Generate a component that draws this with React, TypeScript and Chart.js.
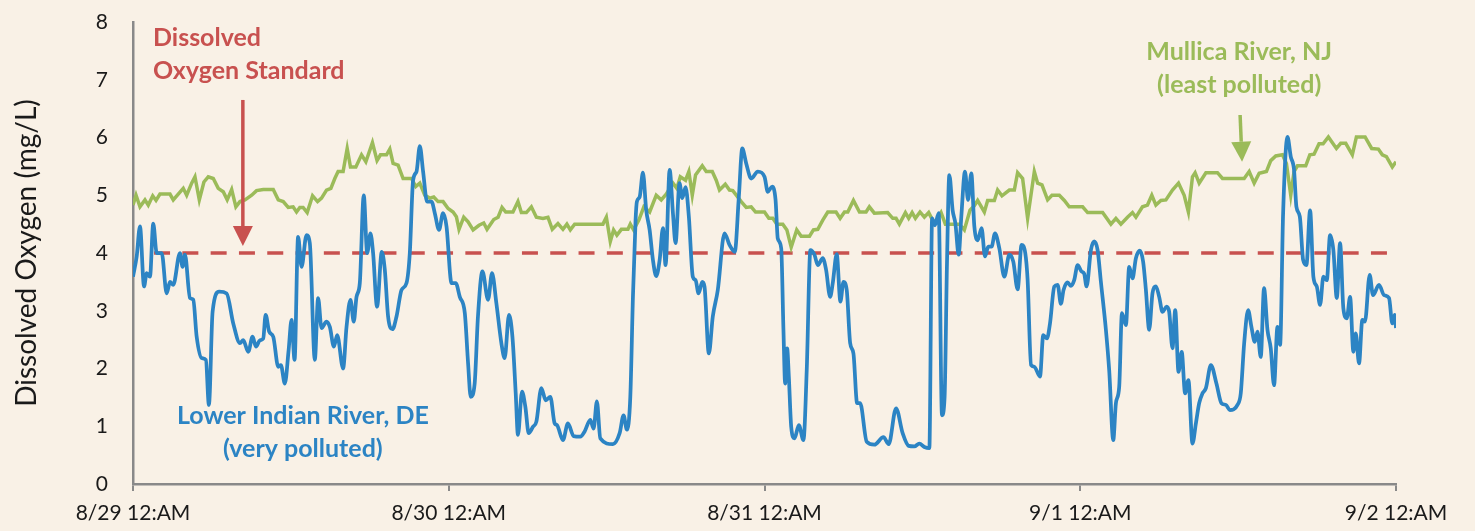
import { useEffect, useRef } from 'react';
import { Chart, registerables } from 'chart.js';

Chart.register(...registerables);

// ---------- data ----------
const xTickLabels = ['8/29 12:AM', '8/30 12:AM', '8/31 12:AM', '9/1 12:AM', '9/2 12:AM'];
const yTickValues = [0, 1, 2, 3, 4, 5, 6, 7, 8];
const doStandard = 4;
const standardStartHour = 1.6;

// Lower Indian River, DE — hours since 8/29 12:AM
const blueHours = [
  0, 0.28, 0.53, 0.84, 1.04, 1.29, 1.54, 1.8, 2.18, 2.56,
  2.81, 3.06, 3.57, 3.77, 3.95, 4.33, 4.58, 4.84, 5.22, 5.54,
  5.77, 6.05, 6.55, 7.12, 7.62, 8.13, 8.38, 8.76, 9.09, 9.34,
  9.65, 9.9, 10.08, 10.35, 10.66, 11.04, 11.24, 11.54, 11.83, 12.05,
  12.28, 12.55, 12.81, 13.19, 13.44, 13.82, 14.07, 14.33, 14.71, 14.96,
  15.27, 15.52, 15.97, 16.23, 16.53, 16.78, 16.99, 17.24, 17.54, 17.8,
  18.05, 18.25, 18.55, 18.91, 19.14, 19.39, 19.72, 20.03, 20.41, 20.79,
  21.04, 21.29, 21.55, 21.8, 22.05, 22.35, 22.69, 22.94, 23.26, 23.57,
  23.83, 24.21, 24.53, 24.84, 25.22, 25.47, 25.67, 25.97, 26.22, 26.56,
  26.99, 27.29, 27.62, 28, 28.25, 28.58, 28.84, 29.09, 29.26, 29.57,
  29.82, 30.08, 30.4, 30.66, 31.04, 31.37, 31.72, 32.05, 32.23, 32.68,
  33.06, 33.49, 34, 34.33, 34.76, 35.01, 35.26, 35.52, 36.48, 36.99,
  37.29, 37.54, 37.8, 38, 38.2, 38.3, 38.51, 38.76, 39.01, 39.27,
  39.52, 39.77, 40.03, 40.28, 40.48, 40.79, 41.04, 41.24, 41.54, 41.75,
  42, 42.25, 42.55, 42.76, 42.99, 43.27, 43.44, 43.77, 44.07, 44.45,
  44.96, 45.34, 45.74, 46.05, 46.31, 46.61, 46.99, 47.49, 48, 48.25,
  48.58, 48.84, 49.01, 49.27, 49.44, 49.57, 49.72, 49.85, 50.03, 50.28,
  50.61, 50.96, 51.21, 51.49, 51.8, 52.05, 52.43, 52.68, 52.99, 53.19,
  53.49, 53.77, 54, 54.25, 54.51, 54.76, 55.04, 55.27, 55.77, 56.35,
  57.04, 57.44, 58, 58.5, 58.96, 59.39, 59.77, 60.15, 60.53, 60.74,
  60.96, 61.24, 61.49, 61.69, 61.87, 62.05, 62.3, 62.51, 62.76, 62.96,
  63.24, 63.47, 63.72, 63.95, 64.2, 64.5, 64.76, 65.01, 65.26, 65.52,
  65.85, 66.23, 66.61, 66.91, 67.24, 67.54, 67.82, 68, 68.26, 68.51,
  68.94, 69.19, 69.47, 69.7, 70.03, 70.28, 70.53, 70.73, 71.04, 71.29,
  71.54, 71.8, 72.1, 72.3, 72.48, 72.81, 73.06, 73.32, 73.57, 73.95,
  74.2, 74.51, 74.71, 74.96, 75.17, 75.47, 75.72, 75.97, 76.23, 76.53,
  76.78, 76.99, 77.24, 77.49, 77.75, 78, 78.25, 78.56, 78.76, 79.01,
  79.22, 79.47, 79.71, 79.97, 80.22, 80.53, 80.79, 81.04, 81.29, 81.55,
  81.93, 82.35, 82.73, 83.07, 83.37, 83.95, 84.2, 84.46, 84.76, 85.01,
  85.27, 85.47, 85.72, 85.97, 86.23, 86.48, 86.73, 86.99, 87.19, 87.42,
  87.75, 88, 88.25, 88.43, 88.69, 88.94, 89.19, 89.47, 89.72, 89.98,
  90.23, 90.48, 90.74, 90.99, 91.24, 91.5, 91.75, 92, 92.26, 92.51,
  92.76, 92.94, 93.19, 93.44, 93.64, 94, 94.25, 94.71, 95.09, 95.47,
  95.72, 95.9, 96,
];
const blueDO = [
  3.59, 3.94, 4.46, 3.42, 3.65, 3.59, 4.51, 4.0, 4.0, 3.3,
  3.5, 3.45, 4.0, 3.76, 3.97, 3.22, 3.19, 2.55, 2.18, 2.15,
  1.37, 2.98, 3.33, 3.3, 2.78, 2.44, 2.49, 2.29, 2.55, 2.38,
  2.49, 2.52, 2.93, 2.64, 2.55, 2.03, 2.06, 1.74, 2.32, 2.84,
  2.15, 4.28, 3.76, 4.31, 4.17, 2.15, 3.22, 2.7, 2.81, 2.72,
  2.38, 2.58, 2.0, 2.72, 3.19, 2.81, 3.24, 3.48, 5.0, 4.0,
  4.34, 4.0, 3.07, 4.02, 3.71, 2.9, 2.68, 2.9, 3.36, 3.48,
  4.0, 5.26, 5.41, 5.85, 5.41, 4.89, 4.89, 4.69, 4.4, 4.69,
  4.46, 3.48, 3.48, 3.24, 2.96, 2.09, 1.51, 1.74, 2.9, 3.68,
  3.19, 3.65, 3.13, 2.44, 2.18, 2.93, 2.55, 1.57, 0.85, 1.6,
  1.34, 0.88, 0.99, 1.08, 1.66, 1.45, 1.51, 1.05, 1.02, 0.76,
  1.05, 0.83, 0.82, 0.91, 1.11, 0.96, 1.43, 0.79, 0.69, 0.88,
  1.19, 0.94, 1.51, 3.24, 4.57, 4.89, 4.97, 5.39, 4.74, 4.4,
  3.88, 3.6, 3.88, 4.43, 3.79, 5.44, 4.69, 4.17, 5.21, 4.95,
  5.14, 4.63, 3.59, 3.53, 3.3, 3.5, 3.42, 2.26, 2.9, 3.36,
  4.34, 4.14, 4.02, 4.97, 5.81, 5.55, 5.29, 5.41, 5.32, 5.06,
  5.15, 4.92, 4.25, 4.08, 2.67, 1.74, 2.35, 1.86, 0.99, 0.79,
  1.02, 0.76, 1.97, 4.05, 3.97, 3.79, 3.91, 3.71, 3.24, 3.48,
  3.98, 3.16, 3.5, 3.36, 2.44, 2.26, 1.4, 1.4, 0.73, 0.68,
  0.81, 0.69, 1.31, 0.88, 0.66, 0.65, 0.7, 0.64, 0.62, 4.6,
  4.48, 4.69, 1.19, 1.51, 3.82, 5.35, 4.74, 4.51, 3.97, 4.63,
  5.41, 4.92, 5.38, 4.46, 4.22, 4.43, 3.94, 4.11, 4.11, 4.34,
  4.08, 3.59, 3.97, 3.85, 3.37, 4.14, 4.0, 3.53, 2.06, 2.03,
  1.86, 2.58, 2.52, 2.78, 3.42, 3.45, 3.12, 3.36, 3.49, 3.43,
  3.53, 3.79, 3.68, 3.64, 3.42, 4.05, 4.2, 4.05, 3.5, 2.67,
  1.97, 0.76, 1.4, 1.68, 2.96, 2.75, 3.76, 3.56, 3.91, 4.04,
  3.85, 3.36, 2.67, 3.3, 3.42, 3.24, 2.98, 3.07, 2.98, 2.35,
  3.01, 1.94, 2.29, 1.57, 1.8, 0.7, 1.05, 1.4, 1.57, 1.66,
  2.06, 1.74, 1.4, 1.37, 1.28, 1.37, 1.57, 2.44, 3.01, 2.72,
  2.46, 2.64, 2.2, 3.39, 2.67, 2.35, 1.71, 2.72, 2.41, 4.69,
  6.01, 5.67, 5.44, 4.8, 4.63, 3.88, 3.79, 4.74, 3.59, 3.42,
  3.1, 3.59, 3.53, 4.31, 4.05, 3.22, 4.17, 3.04, 2.87, 3.24,
  2.29, 2.61, 2.09, 2.84, 2.81, 3.62, 3.27, 3.45, 3.27, 3.22,
  2.78, 2.93, 2.7,
];

// Mullica River, NJ — hours since 8/29 12:AM
const greenHours = [
  0, 0.23, 0.53, 0.91, 1.16, 1.5, 1.75, 2.05, 2.81, 3.06,
  3.44, 3.82, 4.08, 4.46, 4.71, 5.04, 5.39, 5.72, 6.1, 6.48,
  6.86, 7.16, 7.5, 7.82, 8.13, 8.51, 9.02, 9.39, 9.9, 10.66,
  11.04, 11.42, 11.8, 12.17, 12.43, 12.68, 12.93, 13.24, 13.65, 14.03,
  14.33, 14.71, 15.04, 15.34, 15.59, 15.97, 16.28, 16.53, 16.94, 17.37,
  17.7, 18.2, 18.55, 18.81, 19.27, 19.52, 19.77, 20.15, 20.53, 21.17,
  21.49, 21.8, 22.18, 22.56, 22.86, 23.19, 23.57, 23.95, 24.33, 24.58,
  24.78, 25.14, 25.47, 25.85, 26.3, 26.66, 26.91, 27.42, 27.75, 28.05,
  28.33, 28.88, 29.26, 29.52, 29.9, 30.28, 30.66, 31.16, 31.54, 31.87,
  32.3, 32.68, 32.98, 33.24, 33.57, 35.72, 35.98, 36.28, 36.53, 36.78,
  37.12, 37.62, 37.8, 38.05, 38.45, 38.83, 39.27, 39.77, 40.15, 40.53,
  41.04, 41.34, 41.6, 42, 42.25, 42.51, 42.76, 43.27, 43.57, 44.03,
  44.33, 44.58, 45.02, 45.34, 45.59, 45.9, 46.23, 46.61, 46.99, 47.32,
  48, 48.33, 48.63, 48.94, 49.39, 49.7, 50.03, 50.45, 50.79, 51.42,
  51.72, 52.05, 52.43, 52.81, 53.44, 53.75, 54.08, 54.33, 54.76, 55.22,
  55.72, 55.97, 56.35, 57.36, 57.75, 58, 58.25, 58.71, 58.96, 59.22,
  59.47, 59.82, 60.15, 60.48, 60.91, 61.42, 61.75, 62.81, 63.19, 63.62,
  63.95, 64.2, 64.71, 64.96, 65.47, 65.72, 66.05, 66.61, 66.99, 67.24,
  67.62, 68, 68.51, 68.76, 69.09, 69.52, 69.85, 70.41, 70.79, 71.16,
  72.18, 72.56, 73.7, 74.33, 74.71, 75.09, 75.59, 75.97, 76.23, 76.73,
  77.11, 77.44, 77.75, 78.13, 78.51, 79.01, 79.47, 79.9, 80.22, 80.53,
  80.73, 81.04, 81.55, 82.43, 82.81, 84.46, 84.84, 85.22, 85.6, 86.15,
  86.48, 86.86, 87.37, 87.67, 88, 88.25, 88.51, 89.14, 89.45, 89.77,
  90.15, 90.46, 90.86, 91.47, 91.8, 92.18, 92.68, 92.99, 93.65, 94.15,
  94.66, 94.96, 95.27, 95.72, 96,
];
const greenDO = [
  4.83, 5.0, 4.8, 4.92, 4.83, 4.99, 4.91, 5.02, 5.02, 4.92,
  5.02, 5.12, 5.0, 5.21, 5.32, 4.92, 5.23, 5.32, 5.29, 5.12,
  5.06, 4.92, 5.1, 4.8, 4.89, 4.92, 5.0, 5.08, 5.1, 5.1,
  4.92, 4.89, 4.79, 4.8, 4.71, 4.79, 4.79, 4.7, 4.99, 4.89,
  4.95, 5.09, 5.12, 5.29, 5.41, 5.41, 5.81, 5.49, 5.49, 5.7,
  5.58, 5.91, 5.6, 5.7, 5.7, 5.8, 5.55, 5.52, 5.29, 5.29,
  5.15, 5.21, 5.0, 4.95, 4.97, 4.89, 4.89, 4.77, 4.71, 4.63,
  4.41, 4.62, 4.54, 4.4, 4.48, 4.52, 4.41, 4.58, 4.62, 4.79,
  4.71, 4.71, 4.89, 4.7, 4.7, 4.8, 4.62, 4.6, 4.62, 4.41,
  4.51, 4.41, 4.5, 4.4, 4.5, 4.5, 4.62, 4.2, 4.4, 4.31,
  4.41, 4.41, 4.5, 4.4, 4.57, 4.8, 4.71, 5.0, 4.92, 5.02,
  5.21, 5.12, 5.32, 5.26, 5.41, 5.0, 5.35, 5.51, 5.41, 5.41,
  5.26, 5.09, 5.19, 5.09, 5.08, 4.99, 4.89, 4.79, 4.8, 4.71,
  4.71, 4.6, 4.6, 4.5, 4.5, 4.4, 4.1, 4.4, 4.29, 4.29,
  4.4, 4.41, 4.57, 4.71, 4.71, 4.6, 4.71, 4.71, 4.91, 4.71,
  4.71, 4.8, 4.69, 4.7, 4.6, 4.6, 4.5, 4.7, 4.6, 4.7,
  4.6, 4.71, 4.62, 4.7, 4.51, 4.7, 4.5, 4.5, 4.4, 4.74,
  4.82, 4.91, 4.71, 4.91, 4.91, 5.09, 4.99, 5.09, 5.09, 5.39,
  5.29, 4.6, 5.41, 5.21, 5.18, 4.92, 5.0, 5.0, 4.91, 4.8,
  4.8, 4.7, 4.7, 4.5, 4.6, 4.5, 4.62, 4.7, 4.62, 4.8,
  4.83, 5.0, 4.83, 4.91, 4.92, 5.09, 5.21, 5.0, 4.71, 5.32,
  5.39, 5.21, 5.39, 5.39, 5.29, 5.29, 5.41, 5.21, 5.38, 5.41,
  5.6, 5.68, 5.7, 5.55, 5.0, 5.41, 5.51, 5.51, 5.7, 5.71,
  5.89, 5.89, 6.01, 5.81, 5.9, 5.9, 5.7, 6.01, 6.01, 5.81,
  5.8, 5.7, 5.67, 5.49, 5.58,
];

// ---------- styles / annotations ----------
const BG = '#F9F1E6';
const BLUE = '#2C84C4';
const GREEN = '#9BBB59';
const RED = '#C8514F';
const AXIS = '#898989';
const TEXT = '#1a1a1a';

const annotationTexts = [
  { lines: ['Dissolved', 'Oxygen Standard'], color: RED, x: 1.52, ys: [7.72, 7.15], align: 'left' as CanvasTextAlign },
  { lines: ['Mullica River, NJ', '(least polluted)'], color: GREEN, x: 84.08, ys: [7.48, 6.91], align: 'center' as CanvasTextAlign },
  { lines: ['Lower Indian River, DE', '(very polluted)'], color: BLUE, x: 12.91, ys: [1.18, 0.61], align: 'center' as CanvasTextAlign },
];
const arrows = [
  { color: RED, from: [8.35, 6.65], to: [8.35, 4.12] },
  { color: GREEN, from: [84.15, 6.39], to: [84.3, 5.58] },
];

const toPoints = (xs: number[], ys: number[]) => xs.map((x, i) => ({ x, y: ys[i] }));

const annotationPlugin = {
  id: 'annotations',
  beforeDraw(chart: any) {
    const { ctx, width, height } = chart;
    ctx.save();
    ctx.fillStyle = BG;
    ctx.fillRect(0, 0, width, height);
    ctx.restore();
  },
  afterDatasetsDraw(chart: any) {
    const { ctx, scales } = chart;
    const xs = scales.x;
    const ys = scales.y;
    ctx.save();
    arrows.forEach((a) => {
      const x1 = xs.getPixelForValue(a.from[0]);
      const y1 = ys.getPixelForValue(a.from[1]);
      const x2 = xs.getPixelForValue(a.to[0]);
      const y2 = ys.getPixelForValue(a.to[1]);
      const ang = Math.atan2(y2 - y1, x2 - x1);
      const headLen = 20;
      const headHalf = 10;
      const bx = x2 - headLen * Math.cos(ang);
      const by = y2 - headLen * Math.sin(ang);
      ctx.strokeStyle = a.color;
      ctx.fillStyle = a.color;
      ctx.lineWidth = 3.5;
      ctx.beginPath();
      ctx.moveTo(x1, y1);
      ctx.lineTo(bx, by);
      ctx.stroke();
      ctx.beginPath();
      ctx.moveTo(x2, y2);
      ctx.lineTo(bx + headHalf * Math.sin(ang), by - headHalf * Math.cos(ang));
      ctx.lineTo(bx - headHalf * Math.sin(ang), by + headHalf * Math.cos(ang));
      ctx.closePath();
      ctx.fill();
    });
    ctx.font = 'bold 25px Lato';
    ctx.textBaseline = 'middle';
    annotationTexts.forEach((t) => {
      ctx.fillStyle = t.color;
      ctx.textAlign = t.align;
      t.lines.forEach((line, i) => {
        ctx.fillText(line, xs.getPixelForValue(t.x), ys.getPixelForValue(t.ys[i]));
      });
    });
    ctx.restore();
  },
};

export default function App() {
  const canvasRef = useRef<HTMLCanvasElement | null>(null);

  useEffect(() => {
    document.body.style.margin = '0';
    const canvas = canvasRef.current;
    if (!canvas) return;
    const chart = new Chart(canvas, {
      type: 'line',
      data: {
        datasets: [
          {
            label: 'Lower Indian River, DE',
            data: toPoints(blueHours, blueDO),
            borderColor: BLUE,
            borderWidth: 3.75,
            pointRadius: 0,
            cubicInterpolationMode: 'monotone',
            order: 1,
          },
          {
            label: 'Mullica River, NJ',
            data: toPoints(greenHours, greenDO),
            borderColor: GREEN,
            borderWidth: 3.5,
            pointRadius: 0,
            tension: 0,
            order: 2,
          },
          {
            label: 'Dissolved Oxygen Standard',
            data: [
              { x: standardStartHour, y: doStandard },
              { x: 96, y: doStandard },
            ],
            borderColor: RED,
            borderWidth: 3.5,
            borderDash: [16, 12.3],
            pointRadius: 0,
            order: 3,
          },
        ],
      },
      options: {
        responsive: false,
        animation: false,
        events: [],
        layout: { autoPadding: false, padding: { top: 22, right: 79, bottom: 0, left: 0 } },
        plugins: {
          legend: { display: false },
          tooltip: { enabled: false },
        },
        scales: {
          x: {
            type: 'linear',
            min: 0,
            max: 96,
            afterFit: (scale: any) => {
              scale.height = 47;
            },
            afterBuildTicks: (scale: any) => {
              scale.ticks = xTickLabels.map((_, i) => ({ value: i * 24 }));
            },
            ticks: {
              autoSkip: false,
              maxRotation: 0,
              padding: 10,
              color: TEXT,
              font: { family: 'Lato', size: 21 },
              callback: (v: any) => xTickLabels[Math.round(Number(v) / 24)] ?? '',
            },
            grid: {
              drawOnChartArea: false,
              drawTicks: true,
              tickLength: 7,
              color: AXIS,
              lineWidth: 2,
            },
            border: { color: AXIS, width: 2.5 },
          },
          y: {
            min: 0,
            max: 8,
            afterFit: (scale: any) => {
              scale.width = 133;
            },
            afterBuildTicks: (scale: any) => {
              scale.ticks = yTickValues.map((v) => ({ value: v }));
            },
            ticks: {
              padding: 0,
              color: TEXT,
              font: { family: 'Lato', size: 21 },
            },
            grid: { display: false, drawTicks: true, tickLength: 25, color: 'rgba(0,0,0,0)' },
            border: { color: AXIS, width: 2.5 },
            title: {
              display: true,
              text: 'Dissolved Oxygen (mg/L)',
              color: TEXT,
              font: { family: 'Lato', size: 28 },
              padding: { top: 10, bottom: 0 },
            },
          },
        },
      },
      plugins: [annotationPlugin],
    });
    return () => chart.destroy();
  }, []);

  return (
    <div style={{ position: 'fixed', left: 0, top: 0, width: 1475, height: 531, background: BG }}>
      <canvas ref={canvasRef} width={1475} height={531} style={{ display: 'block' }} />
    </div>
  );
}
